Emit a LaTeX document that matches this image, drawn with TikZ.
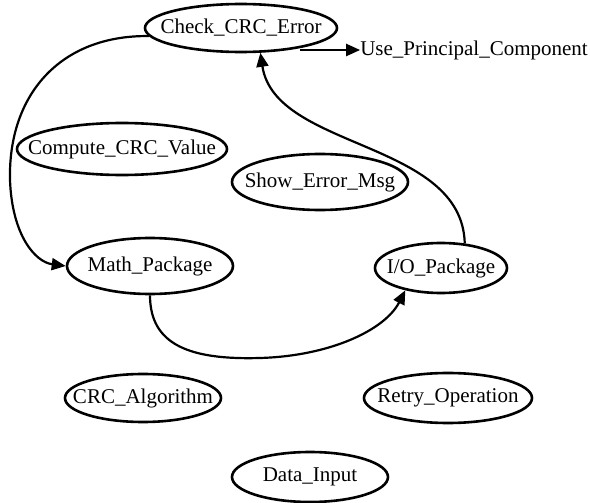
\documentclass[tikz,border=0pt]{standalone}
\usepackage{fontspec}
\setmainfont{Liberation Serif}
\usetikzlibrary{positioning, arrows.meta, shapes.geometric}

\newcommand{\lbl}[1]{\makebox[0pt]{#1}}

\tikzset{
  state/.style={ellipse, draw, line width=2.6pt, inner sep=0pt,
    font=\fontsize{21}{24}\selectfont},
  link/.style={line width=2.2pt, -{Triangle[length=14pt, width=12pt]}}
}

\begin{document}
\begin{tikzpicture}[x=1pt, y=-1pt]
\useasboundingbox (0,0) rectangle (590,503);

\node[state, minimum width=192pt, minimum height=48pt] (chk) at (241,28) {\lbl{Check\_CRC\_Error}};
\node[state, minimum width=210pt, minimum height=52pt] (crc) at (122,149) {\lbl{Compute\_CRC\_Value}};
\node[state, minimum width=176pt, minimum height=56pt] (msg) at (320,182) {\lbl{Show\_Error\_Msg}};
\node[state, minimum width=166pt, minimum height=56pt] (math) at (150,266) {\lbl{Math\_Package}};
\node[state, minimum width=132pt, minimum height=50pt] (io) at (441,268) {\lbl{I/O\_Package}};
\node[state, minimum width=156pt, minimum height=48pt] (alg) at (143,398) {\lbl{CRC\_Algorithm}};
\node[state, minimum width=168pt, minimum height=50pt] (retry) at (448,398) {\lbl{Retry\_Operation}};
\node[state, minimum width=156pt, minimum height=50pt] (data) at (310,477) {\lbl{Data\_Input}};

% legend
\node[font=\fontsize{21}{24}\selectfont, anchor=east, inner sep=0pt] (upc) at (588,50) {Use\_Principal\_Component};
\coordinate (upcfrom) at (300,50);
\draw[link] (upcfrom) -- (upc.west);

% connectors
\draw[link] (chk.185) .. controls (60,35) and (8,95) .. (10,180)
  .. controls (12,235) and (35,262) .. (math.west);
\draw[link] (math.south) .. controls (150,345) and (190,360) .. (260,358)
  .. controls (330,356) and (385,330) .. (io.-148);
\draw[link] (io.46) .. controls (462,140) and (275,150) .. (chk.-52);
\end{tikzpicture}
\end{document}
